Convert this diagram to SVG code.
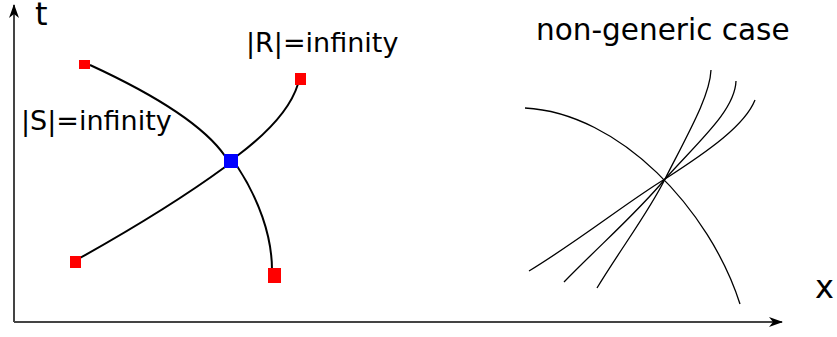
<svg xmlns="http://www.w3.org/2000/svg" width="837" height="337" viewBox="0 0 837 337">
<style>
.c{fill:none;stroke:#000;stroke-width:2}
.t{fill:none;stroke:#000;stroke-width:1.3}
.ax{fill:none;stroke:#444;stroke-width:2}
.lbl{font-family:"DejaVu Sans",sans-serif;fill:#000}
.r{fill:#f00}
.b{fill:#00f}
</style>
<defs>
<marker id="ah" viewBox="0 0 14 10" refX="13" refY="5" markerWidth="14" markerHeight="10" markerUnits="userSpaceOnUse" orient="auto">
<path d="M0,0 L14,5 L0,10 L4,5 Z" fill="#000"/>
</marker>
</defs>
<g id="axes">
<path class="ax" d="M14,322 L14,5" marker-end="url(#ah)"/>
<path class="ax" d="M14,322 L782,322" marker-end="url(#ah)"/>
</g>
<g id="connectors">
<path class="c" d="M90,65 C140,88 200,120 225,156"/>
<path class="c" d="M237,166 C258,198 272,235 272,270"/>
<path class="c" d="M237,156 C265,135 290,110 298,84"/>
<path class="c" d="M225,167 C180,200 130,230 80,258"/>
<path class="t" d="M525,108 C620,113 710,210 740,304"/>
<path class="t" d="M529,271 C580,240 630,200 665,179 C710,150 745,125 755,100"/>
<path class="t" d="M564,282 C600,245 640,210 665,179 C700,140 735,110 736,81"/>
<path class="t" d="M597,288 C620,250 650,210 665,179 C690,130 710,95 711,70"/>
</g>
<g id="n1"><rect class="r" x="79" y="60" width="11" height="9"/></g>
<g id="n2"><rect class="r" x="295" y="73" width="11" height="12"/></g>
<g id="n3"><rect class="r" x="70" y="256" width="11" height="12"/></g>
<g id="n4"><rect class="r" x="268" y="268" width="13" height="15"/></g>
<g id="center"><rect class="b" x="224" y="154" width="14" height="14"/></g>
<g id="labels">
<text class="lbl" x="35" y="25" font-size="32">t</text>
<text class="lbl" x="246" y="52" font-size="27">|R|=infinity</text>
<text class="lbl" x="21" y="130" font-size="27">|S|=infinity</text>
<text class="lbl" x="536" y="40" font-size="29.5">non-generic case</text>
<text class="lbl" x="815" y="298" font-size="32">x</text>
</g>
</svg>
